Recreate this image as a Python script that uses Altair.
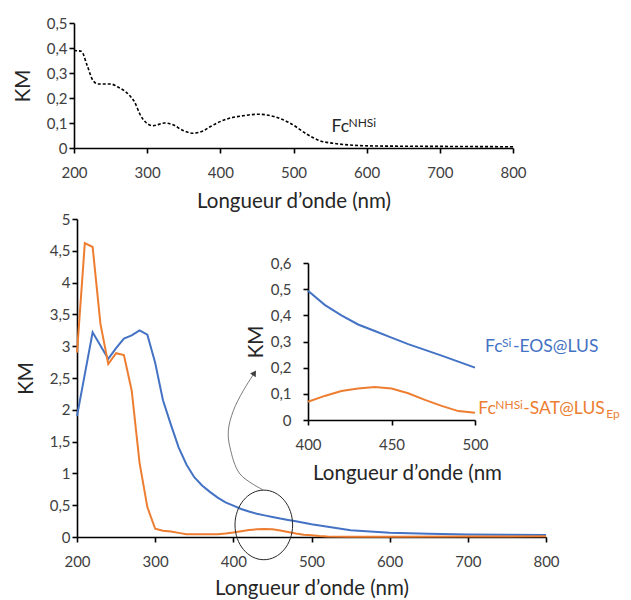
import altair as alt
import pandas as pd

# ---------------- data ----------------
# Top panel: Fc^NHSi (dashed)
top_wl = [200, 210, 218, 226, 233, 250, 260, 276, 283, 290, 299, 308, 324, 336, 349, 363,
          377, 386, 409, 431, 452, 472, 495, 518, 536, 554, 577, 614, 660, 730, 800]
top_km = [0.39, 0.387, 0.33, 0.27, 0.256, 0.256, 0.244, 0.21, 0.183, 0.136, 0.10, 0.089,
          0.10, 0.092, 0.07, 0.059, 0.069, 0.085, 0.116, 0.129, 0.135, 0.127, 0.10, 0.056,
          0.029, 0.019, 0.012, 0.008, 0.007, 0.006, 0.005]

# Bottom panel: Fc^Si-EOS@LUS (blue)
si_wl = [200, 220, 240, 250, 260, 270, 280, 290, 300, 310, 320, 330, 340, 350, 360, 370,
         380, 390, 400, 410, 420, 430, 440, 450, 460, 470, 480, 490, 500, 550, 600, 650,
         700, 750, 800]
si_km = [1.9, 3.22, 2.8, 2.97, 3.12, 3.17, 3.25, 3.18, 2.74, 2.15, 1.77, 1.41, 1.14, 0.94,
         0.81, 0.71, 0.62, 0.545, 0.494, 0.44, 0.40, 0.365, 0.34, 0.315, 0.29, 0.268, 0.246,
         0.223, 0.20, 0.105, 0.065, 0.05, 0.04, 0.035, 0.03]

# Bottom panel: Fc^NHSi-SAT@LUS_Ep (orange)
nh_wl = [200, 210, 220, 230, 240, 250, 260, 270, 280, 290, 300, 310, 320, 330, 340, 360,
         380, 390, 400, 410, 420, 430, 440, 450, 460, 470, 480, 490, 500, 510, 520, 550,
         600, 700, 800]
nh_km = [2.9, 4.62, 4.56, 3.35, 2.72, 2.89, 2.86, 2.3, 1.17, 0.47, 0.13, 0.10, 0.085, 0.065,
         0.045, 0.045, 0.045, 0.055, 0.07, 0.092, 0.111, 0.12, 0.126, 0.12, 0.102, 0.077,
         0.054, 0.034, 0.028, 0.015, 0.008, 0.005, 0.005, 0.008, 0.01]

series_names = ["Si-EOS", "NHSi-SAT"]
series_colors = ["#4472C4", "#ED7D31"]

x_ticks = [200, 300, 400, 500, 600, 700, 800]
top_y_ticks = [0, 0.1, 0.2, 0.3, 0.4, 0.5]
main_y_ticks = [0, 0.5, 1, 1.5, 2, 2.5, 3, 3.5, 4, 4.5, 5]
inset_x_ticks = [400, 450, 500]
inset_y_ticks = [0, 0.1, 0.2, 0.3, 0.4, 0.5, 0.6]

x_title = "Longueur d’onde (nm)"
inset_x_title = "Longueur d’onde (nm"

# annotation: ellipse around the 400-500 nm region and the curved arrow
ellipse_pt = {"wl": [439], "km": [0.19]}
arrow_wl = [438.3, 408.5, 395.7, 393.6, 400.0, 412.7, 427.0]
arrow_km = [0.739, 0.991, 1.410, 1.671, 1.986, 2.300, 2.58]

# label pieces: (text, dx, dy, size)
top_label_anchor = (552, 0.064)
top_label = [("Fc", 0, 0, 17.5), ("NHSi", 17, -5, 12)]
si_label_anchor = (722, 2.904)
si_label = [("Fc", 0, 0, 17.5), ("Si", 17, -5, 12), ("-EOS@LUS", 28, 0, 17.5)]
nh_label_anchor = (713.4, 1.934)
nh_label = [("Fc", 0, 0, 17.5), ("NHSi", 17, -5, 12), ("-SAT@LUS", 45, 0, 17.5),
            ("Ep", 128, 4, 12)]

FONT = "Lato"
COMMA = "replace(format(datum.value, '.1~f'), '.', ',')"

W, H = 469, 318
TOP_H = 125

# ---------------- frames ----------------
top_df = pd.DataFrame({"wl": top_wl, "km": top_km})
main_df = pd.concat([
    pd.DataFrame({"wl": si_wl, "km": si_km, "series": series_names[0], "o": range(len(si_wl))}),
    pd.DataFrame({"wl": nh_wl, "km": nh_km, "series": series_names[1], "o": range(len(nh_wl))}),
])
inset_df = main_df[(main_df.wl >= 400) & (main_df.wl <= 500)]
arrow_df = pd.DataFrame({"wl": arrow_wl, "km": arrow_km, "o": range(len(arrow_wl))})
ell_df = pd.DataFrame(ellipse_pt)

color = alt.Color("series:N", scale=alt.Scale(domain=series_names, range=series_colors),
                  legend=None)

# ---------------- top panel ----------------
top_x = alt.X("wl:Q", scale=alt.Scale(domain=[200, 800], range=[-3, 436], nice=False, zero=False),
              axis=alt.Axis(values=x_ticks, title=x_title, labelPadding=12, titlePadding=11))
top_y = alt.Y("km:Q", scale=alt.Scale(domain=[0, 0.5], nice=False),
              axis=alt.Axis(values=top_y_ticks, labelExpr=COMMA, title="KM", offset=3,
                            labelPadding=2, titlePadding=13))

top_line = alt.Chart(top_df).mark_line(
    color="black", strokeDash=[3, 2], strokeWidth=1.6, interpolate="monotone"
).encode(x=top_x, y=top_y)

top_layers = [top_line]
for txt, dx, dy, size in top_label:
    d = pd.DataFrame({"wl": [top_label_anchor[0]], "km": [top_label_anchor[1]], "t": [txt]})
    top_layers.append(alt.Chart(d).mark_text(
        align="left", baseline="alphabetic", font=FONT, fontSize=size, dx=dx, dy=dy,
        color="#262626").encode(x=top_x, y=top_y, text="t:N"))

top_chart = alt.layer(*top_layers).properties(width=W, height=TOP_H)

# ---------------- bottom panel ----------------
def mx(axis=None):
    return alt.X("wl:Q", scale=alt.Scale(domain=[200, 800], nice=False, zero=False),
                 axis=axis)

def my(axis=None):
    return alt.Y("km:Q", scale=alt.Scale(domain=[0, 5], nice=False), axis=axis)

main_lines = alt.Chart(main_df).mark_line(strokeWidth=2).encode(
    x=mx(alt.Axis(values=x_ticks, title=x_title, labelPadding=12, titlePadding=9)),
    y=my(alt.Axis(values=main_y_ticks, labelExpr=COMMA, title="KM", labelPadding=2,
                  titlePadding=13)),
    color=color, order="o:Q")

inset_lines = alt.Chart(inset_df).mark_line(strokeWidth=2).encode(
    x=alt.X("wl:Q", scale=alt.Scale(domain=[400, 500], range=[231, 398], nice=False, zero=False),
            axis=alt.Axis(values=inset_x_ticks, title=inset_x_title, orient="bottom",
                          offset=-117, labelPadding=12, titlePadding=11, titleX=330)),
    y=alt.Y("km:Q", scale=alt.Scale(domain=[0, 0.6], range=[201, 44], nice=False),
            axis=alt.Axis(values=inset_y_ticks, labelExpr=COMMA, title="KM", orient="left",
                          offset=-231, labelPadding=12, titlePadding=4)),
    color=color, order="o:Q")

ellipse = alt.Chart(ell_df).mark_point(
    shape="M -0.828 0 A 0.828 1 0 1 1 0.828 0 A 0.828 1 0 1 1 -0.828 0 Z",
    size=4844, filled=False, color="#262626", strokeWidth=1, opacity=1
).encode(x=mx(), y=my())

arrow_line = alt.Chart(arrow_df).mark_line(
    color="#595959", strokeWidth=0.8, interpolate="catmull-rom"
).encode(x=mx(), y=my(), order="o:Q")

arrow_head = alt.Chart(arrow_df.tail(1)).mark_point(
    shape="triangle-up", filled=True, size=45, angle=32, color="#404040", opacity=1
).encode(x=mx(), y=my())

bottom_layers = [main_lines, inset_lines, ellipse, arrow_line, arrow_head]
for anchor, pieces, col in [(si_label_anchor, si_label, series_colors[0]),
                            (nh_label_anchor, nh_label, series_colors[1])]:
    for txt, dx, dy, size in pieces:
        d = pd.DataFrame({"wl": [anchor[0]], "km": [anchor[1]], "t": [txt]})
        bottom_layers.append(alt.Chart(d).mark_text(
            align="left", baseline="alphabetic", font=FONT, fontSize=size, dx=dx, dy=dy,
            color=col).encode(x=mx(), y=my(), text="t:N"))

bottom_chart = alt.layer(*bottom_layers).resolve_scale(
    x="independent", y="independent").resolve_axis(
    x="independent", y="independent").properties(width=W, height=H)

chart = alt.vconcat(top_chart, bottom_chart, spacing=0).properties(
    padding={"left": 5, "top": 8, "right": 0, "bottom": 0}
).configure_view(stroke=None).configure_axis(
    labelFont=FONT, labelFontSize=15, labelColor="#404040", labelFlush=False,
    labelOverlap=False,
    titleFont=FONT, titleFontSize=20.5, titleFontWeight="normal", titleColor="#262626",
    domainColor="black", domainWidth=1.6, tickColor="black", tickWidth=1.6, tickSize=5,
    grid=False
)

chart.save("out.html", embed_options={"renderer": "svg", "actions": False})
